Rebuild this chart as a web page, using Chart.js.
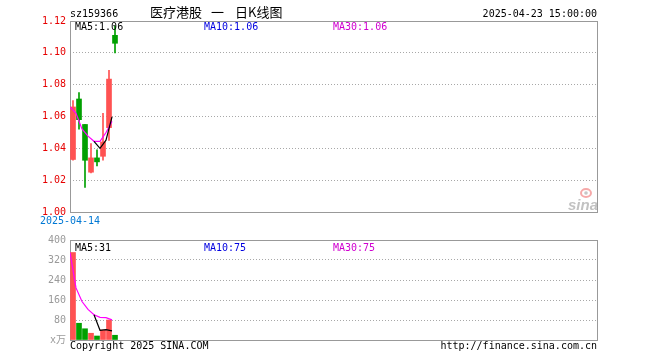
<!DOCTYPE html>
<html><head><meta charset="utf-8">
<script src="https://cdn.jsdelivr.net/npm/chart.js@4.4.1/dist/chart.umd.min.js"></script>
<style>
html,body{margin:0;padding:0;background:#fff;}
#wrap{position:relative;width:660px;height:360px;overflow:hidden;}
#c1{position:absolute;left:0;top:0;}
#c2{position:absolute;left:0;top:230px;}
</style></head><body>
<div id="wrap"><canvas id="c1" width="660" height="230"></canvas><canvas id="c2" width="660" height="130"></canvas></div>
<script>
// ---- data ----
const dates  = ['2025-04-14','2025-04-15','2025-04-16','2025-04-17','2025-04-18','2025-04-21','2025-04-22','2025-04-23'];
const openP  = [1.033, 1.071, 1.055, 1.025, 1.034, 1.035, 1.053, 1.111];
const closeP = [1.066, 1.058, 1.0325, 1.034, 1.0315, 1.044, 1.0835, 1.106];
const highP  = [1.070, 1.075, 1.055, 1.043, 1.039, 1.062, 1.089, 1.117];
const lowP   = [1.0325, 1.052, 1.0155, 1.0245, 1.029, 1.0325, 1.045, 1.100];
const volume = [350, 67, 45, 27, 16, 40, 80, 19];
const priceTicks = [1.00, 1.02, 1.04, 1.06, 1.08, 1.10, 1.12];
const volTicks = [0, 80, 160, 240, 320, 400];
const priceLegend = ['MA5:1.06', 'MA10:1.06', 'MA30:1.06'];
const volLegend = ['MA5:31', 'MA10:75', 'MA30:75'];
const code = 'sz159366';
const titleParts = ['医疗港股', '一', '日K线图'];
const timeText = ' 15:00:00';
const SLOTS = 88;

// ---- styles ----
const RED = '#ff5252', GREEN = '#00a000';
const MONO = '"DejaVu Sans Mono", "Noto Sans CJK SC", monospace';
const GRIDC = '#a8a8a8', BOXC = '#999999';
const LINEC = ['#000000', '#0000ff', '#ff00ff'];
const TEXTC = ['#000000', '#0000e0', '#d000d0'];

const isUp = i => closeP[i] >= openP[i];
const colors = dates.map((d, i) => isUp(i) ? RED : GREEN);
function movAvg(arr, n, strict) {
  return arr.map((_, i) => {
    if (strict && i < n - 1) return null;
    const s = arr.slice(Math.max(0, i - n + 1), i + 1);
    return s.reduce((a, b) => a + b, 0) / s.length;
  });
}
const linePts = arr => arr.map((v, i) => ({x: i, y: v}));
const barPts = arr => arr.map((v, i) => ({x: i + 0.5, y: v}));

// MA10 coincides with MA30 (fewer than 10 sessions), so it sits hidden beneath it
function lineDs(data, color, order, hidden) {
  return {type: 'line', data: linePts(data), borderColor: color, borderWidth: 1.2,
    pointRadius: 0, tension: 0, fill: false, spanGaps: false, order, hidden: !!hidden};
}

const boxPlugin = {
  id: 'box',
  beforeDatasetsDraw(chart) {
    const {ctx, chartArea: a} = chart;
    ctx.save();
    ctx.strokeStyle = BOXC; ctx.lineWidth = 1;
    ctx.strokeRect(a.left + 0.5, a.top + 0.5, a.right - a.left - 1, a.bottom - a.top);
    ctx.restore();
  }
};

function drawLegend(ctx, texts, y) {
  const xs = [75, 204, 333];
  ctx.font = '10px ' + MONO;
  ctx.textAlign = 'left';
  ctx.textBaseline = 'alphabetic';
  texts.forEach((t, k) => { ctx.fillStyle = TEXTC[k]; ctx.fillText(t, xs[k], y); });
}

const topText = {
  id: 'topText',
  afterDraw(chart) {
    const ctx = chart.ctx;
    ctx.save();
    ctx.textBaseline = 'alphabetic';
    ctx.fillStyle = '#000';
    ctx.font = '10px ' + MONO;
    ctx.textAlign = 'left';
    ctx.fillText(code, 70, 17);
    ctx.textAlign = 'right';
    ctx.fillText(dates[dates.length - 1] + timeText, 597, 17);
    ctx.textAlign = 'left';
    ctx.font = '13px "Noto Sans CJK SC"';
    const tx = [150, 211, 235];
    titleParts.forEach((t, k) => ctx.fillText(t, tx[k], 17));
    drawLegend(ctx, priceLegend, 30);
    // sina watermark
    ctx.globalAlpha = 0.6;
    ctx.strokeStyle = '#f07070'; ctx.lineWidth = 2;
    ctx.beginPath(); ctx.ellipse(586, 193, 5, 4, 0, 0, Math.PI * 2); ctx.stroke();
    ctx.fillStyle = '#a0a0a0';
    ctx.beginPath(); ctx.arc(586, 193, 1.8, 0, Math.PI * 2); ctx.fill();
    ctx.font = 'italic bold 15px "Liberation Sans"';
    ctx.textAlign = 'right';
    ctx.fillStyle = '#999999';
    ctx.fillText('sina', 598, 210);
    ctx.restore();
  }
};

const botText = {
  id: 'botText',
  afterDraw(chart) {
    const ctx = chart.ctx;
    ctx.save();
    drawLegend(ctx, volLegend, 21);
    ctx.font = '10px ' + MONO;
    ctx.fillStyle = '#000';
    ctx.textAlign = 'left';
    ctx.fillText('Copyright 2025 SINA.COM', 70, 119);
    ctx.textAlign = 'right';
    ctx.fillText('http://finance.sina.com.cn', 597, 119);
    ctx.restore();
  }
};

Chart.defaults.font.family = MONO;
Chart.defaults.font.size = 10;

const priceMA5 = movAvg(closeP, 5, true);
const priceMA10 = movAvg(closeP, 10, false);
const priceMA30 = movAvg(closeP, 30, false);

new Chart(document.getElementById('c1'), {
  data: {
    datasets: [
      lineDs(priceMA5, LINEC[0], 0),
      lineDs(priceMA30, LINEC[2], 1),
      lineDs(priceMA10, LINEC[1], 2, true),
      {type: 'bar', data: barPts(dates.map((d, i) => [openP[i], closeP[i]])),
        backgroundColor: colors, borderWidth: 0, borderSkipped: false,
        barThickness: 5, grouped: false, order: 3},
      {type: 'bar', data: barPts(dates.map((d, i) => [lowP[i], highP[i]])),
        backgroundColor: colors, borderWidth: 0, borderSkipped: false,
        barThickness: 1, grouped: false, order: 4}
    ]
  },
  options: {
    responsive: false, animation: false, devicePixelRatio: 1,
    layout: {padding: {left: 0, right: 62, top: 21, bottom: 0}},
    plugins: {legend: {display: false}, tooltip: {enabled: false}},
    scales: {
      x: {type: 'linear', min: 0, max: SLOTS, offset: false, bounds: 'data',
        grid: {display: false, drawTicks: false, offset: false}, border: {display: false},
        afterBuildTicks: s => { s.ticks = [{value: 0}]; },
        afterFit: s => { s.height = 18; },
        ticks: {callback: v => v === 0 ? dates[0] : '', color: '#0078d4', maxRotation: 0,
          autoSkip: false, padding: 3, font: {size: 10, family: MONO}}},
      y: {type: 'linear', min: priceTicks[0], max: priceTicks[priceTicks.length - 1],
        afterBuildTicks: s => { s.ticks = priceTicks.map(v => ({value: v})); },
        afterFit: s => { s.width = 70; },
        grid: {color: GRIDC, drawTicks: false, lineWidth: 1},
        border: {display: false, dash: [1, 2]},
        ticks: {callback: v => v.toFixed(2), color: '#e60000', padding: 4,
          font: {size: 10, family: MONO}}}
    }
  },
  plugins: [boxPlugin, topText]
});

const volMA5 = movAvg(volume, 5, true);
const volMA10 = movAvg(volume, 10, false);
const volMA30 = movAvg(volume, 30, false);

new Chart(document.getElementById('c2'), {
  data: {
    datasets: [
      lineDs(volMA5, LINEC[0], 0),
      lineDs(volMA30, LINEC[2], 1),
      lineDs(volMA10, LINEC[1], 2, true),
      {type: 'bar', data: barPts(volume), backgroundColor: colors, borderWidth: 0,
        borderSkipped: false, barThickness: 5, grouped: false, order: 3}
    ]
  },
  options: {
    responsive: false, animation: false, devicePixelRatio: 1,
    layout: {padding: {left: 0, right: 62, top: 10, bottom: 20}},
    plugins: {legend: {display: false}, tooltip: {enabled: false}},
    scales: {
      x: {type: 'linear', min: 0, max: SLOTS, display: false, offset: false, bounds: 'data',
        grid: {offset: false}},
      y: {type: 'linear', min: volTicks[0], max: volTicks[volTicks.length - 1],
        afterBuildTicks: s => { s.ticks = volTicks.map(v => ({value: v})); },
        afterFit: s => { s.width = 70; },
        grid: {color: GRIDC, drawTicks: false, lineWidth: 1},
        border: {display: false, dash: [1, 2]},
        ticks: {callback: v => v === 0 ? 'x万' : String(v), color: '#9a9a9a', padding: 4,
          font: {size: 10, family: MONO}}}
    }
  },
  plugins: [boxPlugin, botText]
});
</script>
</body></html>
